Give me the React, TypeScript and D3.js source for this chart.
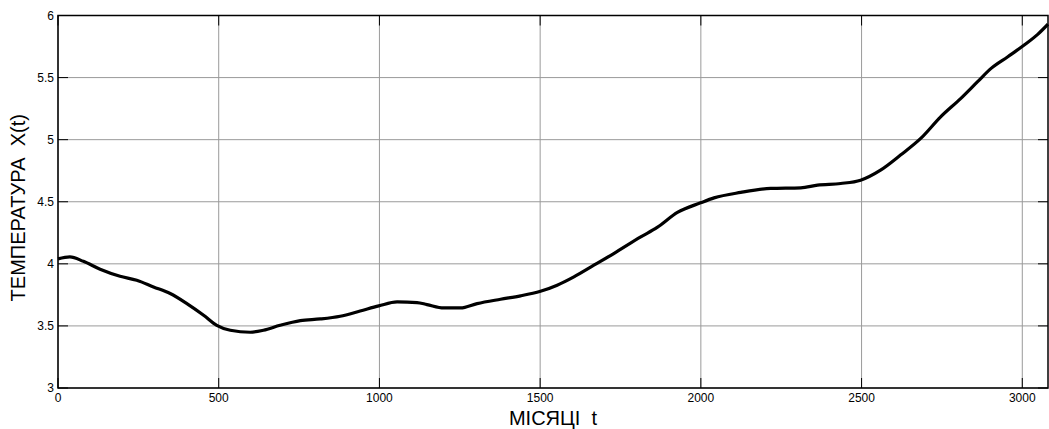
import React from "react";
import * as d3 from "d3";

// months
const months = [
  0, 37, 79, 131, 193, 245, 297, 349, 401, 453, 494, 536, 598, 639, 691, 754,
  816, 878, 940, 998, 1055, 1117, 1148, 1200, 1252, 1304, 1377, 1439, 1501,
  1553, 1605, 1667, 1729, 1813, 1864, 1927, 1999, 2041, 2124, 2217, 2311,
  2363, 2435, 2497, 2559, 2621, 2684, 2746, 2809, 2861, 2903, 2955, 3006,
  3048, 3080,
];
const temps = [
  4.04, 4.056, 4.02, 3.957, 3.9, 3.868, 3.814, 3.761, 3.68, 3.586, 3.505,
  3.465, 3.449, 3.465, 3.505, 3.543, 3.556, 3.578, 3.62, 3.661, 3.693, 3.688,
  3.672, 3.645, 3.645, 3.68, 3.715, 3.742, 3.779, 3.828, 3.895, 3.989, 4.083,
  4.217, 4.293, 4.414, 4.491, 4.531, 4.575, 4.607, 4.612, 4.634, 4.647, 4.674,
  4.755, 4.876, 5.01, 5.184, 5.333, 5.467, 5.574, 5.668, 5.762, 5.848, 5.93,
];
const xDomain = [0, 3080];
const yDomain = [3, 6];
const xTitle = "МІСЯЦІ  t";
const yTitle = "ТЕМПЕРАТУРА  X(t)";

const W = 1049;
const H = 429;
const left = 58;
const right = 1048;
const top = 15.5;
const bottom = 388;
const tickLen = 10;
const font = "'Liberation Sans', Arial, sans-serif";

const App = () => {
  const x = d3.scaleLinear().domain(xDomain).range([left, right]);
  const y = d3.scaleLinear().domain(yDomain).range([bottom, top]);

  const data = months.map((m, i) => ({ m, v: temps[i] }));
  const line = d3
    .line<{ m: number; v: number }>()
    .x(d => x(d.m))
    .y(d => y(d.v))
    .curve(d3.curveMonotoneX);

  const xTicks = x.ticks(7);
  const yTicks = y.ticks(6);

  return (
    <svg
      width={W}
      height={H}
      style={{ position: "absolute", left: 0, top: 0, background: "#fff" }}
    >
      <rect x={0} y={0} width={W} height={H} fill="#fff" />
      {/* grid */}
      <g stroke="#9a9a9a" strokeWidth={1}>
        {xTicks.map(t => (
          <line key={"gx" + t} x1={x(t)} x2={x(t)} y1={top} y2={bottom} />
        ))}
        {yTicks.map(t => (
          <line key={"gy" + t} x1={left} x2={right} y1={y(t)} y2={y(t)} />
        ))}
      </g>
      {/* the curve */}
      <path
        d={line(data) || ""}
        fill="none"
        stroke="#000"
        strokeWidth={3.2}
        strokeLinejoin="round"
      />
      {/* box + inner ticks */}
      <g stroke="#000" strokeWidth={1}>
        {xTicks.map(t => (
          <g key={"tx" + t}>
            <line x1={x(t)} x2={x(t)} y1={bottom} y2={bottom - tickLen} />
            <line x1={x(t)} x2={x(t)} y1={top} y2={top + tickLen} />
          </g>
        ))}
        {yTicks.map(t => (
          <g key={"ty" + t}>
            <line x1={left} x2={left + tickLen} y1={y(t)} y2={y(t)} />
            <line x1={right} x2={right - tickLen} y1={y(t)} y2={y(t)} />
          </g>
        ))}
      </g>
      <rect
        x={left}
        y={top}
        width={right - left}
        height={bottom - top}
        fill="none"
        stroke="#000"
        strokeWidth={1.5}
      />
      {/* tick labels */}
      <g fontFamily={font} fontSize={12} fill="#000">
        {xTicks.map(t => (
          <text key={"lx" + t} x={x(t)} y={bottom + 14} textAnchor="middle">
            {String(t)}
          </text>
        ))}
        {yTicks.map(t => (
          <text key={"ly" + t} x={left - 4} y={y(t) + 4} textAnchor="end">
            {String(t)}
          </text>
        ))}
      </g>
      {/* axis titles */}
      <text
        x={(left + right) / 2}
        y={425}
        textAnchor="middle"
        fontFamily={font}
        fontSize={20}
        fill="#000"
        style={{ whiteSpace: "pre" }}
      >
        {xTitle}
      </text>
      <text
        transform={`translate(25,${(top + bottom) / 2 + 6}) rotate(-90)`}
        textAnchor="middle"
        fontFamily={font}
        fontSize={20}
        fill="#000"
        style={{ whiteSpace: "pre" }}
      >
        {yTitle}
      </text>
    </svg>
  );
};

export default App;
